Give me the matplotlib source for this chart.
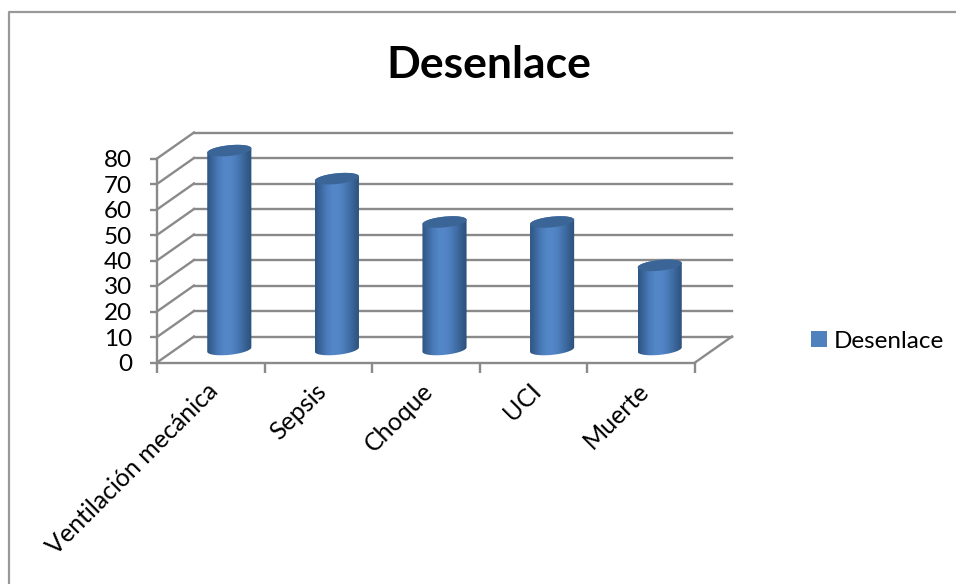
import numpy as np
import matplotlib
matplotlib.use('Agg')
import matplotlib.pyplot as plt
from matplotlib.colors import LinearSegmentedColormap
from matplotlib.patches import Patch, Polygon

categories = ['Ventilación mecánica', 'Sepsis', 'Choque', 'UCI', 'Muerte']
values = [78, 67, 50, 50, 33]
y_ticks = [0, 10, 20, 30, 40, 50, 60, 70, 80]
series_name = 'Desenlace'

W, H = 956, 584
GRAY = '#8a8a8a'
plt.rcParams['font.family'] = ['Lato', 'DejaVu Sans']

fig = plt.figure(figsize=(W / 100, H / 100), dpi=100)
# axes cover the front plane of the fake 3d box
ax = fig.add_axes([157 / W, 1 - 362.5 / H, 538 / W, 204 / H])
ax.set_xlim(0, 5)
ax.set_ylim(0, 80)
ax.patch.set_alpha(0)

# depth of the box in data units
dx = 37 / 107.6
dy = 26 / 2.55

# outer frame
fig.add_artist(plt.Line2D([8.5 / W, 8.5 / W, 1], [0, 1 - 11.5 / H, 1 - 11.5 / H], color='#999999', lw=1.6))

# back wall and side wall
for v in y_ticks:
    ax.plot([dx, 5 + dx], [v + dy, v + dy], color=GRAY, lw=1.7, clip_on=False, zorder=1)
    ax.plot([0, dx], [v, v + dy], color=GRAY, lw=1.7, clip_on=False, zorder=1)
ax.plot([5, 5 + dx], [0, dy], color=GRAY, lw=1.7, clip_on=False, zorder=1)

cmap = LinearSegmentedColormap.from_list('cyl', ['#2e5482', '#3c679c', '#4a7ab8', '#5286c7', '#5487c8', '#4d7fbd', '#4170a8', '#365f90', '#2c4f78'])
grad = np.linspace(0, 1, 256).reshape(1, -1)

half_w = 0.205
t = np.linspace(0, 2 * np.pi, 120)
ell_h = 2.1   # ellipse half height, data units
skew = 0.85

for i, v in enumerate(values):
    cx = i + 0.5 + dx / 2
    base = dy / 2
    top = v + dy / 2
    # outline of the cylinder: lower half of base ellipse, then upper half of top ellipse
    tb = np.linspace(np.pi, 2 * np.pi, 60)
    xb = cx + half_w * np.cos(tb)
    yb = base + skew * np.cos(tb) + ell_h * np.sin(tb)
    tt = np.linspace(0, np.pi, 60)
    xt = cx + half_w * np.cos(tt)
    yt = top + skew * np.cos(tt) + ell_h * np.sin(tt)
    body = Polygon(np.column_stack([np.r_[xb, xt], np.r_[yb, yt]]), closed=True, transform=ax.transData, fc='none', ec='none')
    ax.add_patch(body)
    body.set_clip_on(False)
    im = ax.imshow(grad, extent=[cx - half_w, cx + half_w, 0, 100], aspect='auto', cmap=cmap, zorder=3, interpolation='bilinear')
    im.set_clip_box(fig.bbox)
    im.set_clip_path(body)
    cap = Polygon(np.column_stack([cx + half_w * np.cos(t), top + skew * np.cos(t) + ell_h * np.sin(t)]), closed=True, fc='#3a6596', ec='none', zorder=4, clip_on=False)
    ax.add_patch(cap)

ax.set_xlim(0, 5)
ax.set_ylim(0, 80)

for s in ['top', 'right']:
    ax.spines[s].set_visible(False)
for s in ['left', 'bottom']:
    ax.spines[s].set_color(GRAY)
    ax.spines[s].set_linewidth(1.7)

ax.set_yticks(y_ticks)
ax.set_xticks(range(6))
ax.set_xticklabels([])
ax.set_xticks(np.arange(5) + 0.46, minor=True)
ax.set_xticklabels(categories, minor=True, rotation=45, ha='right', rotation_mode='anchor', fontsize=18, color='black')
ax.tick_params(axis='x', which='major', length=7, width=1.7, color=GRAY)
ax.tick_params(axis='x', which='minor', length=0, pad=12)
ax.tick_params(axis='y', length=5, width=1.7, color=GRAY, labelsize=17.5, pad=13)

fig.text(488.5 / W, 1 - 65 / H, 'Desenlace', fontsize=32, fontweight='bold', ha='center', va='center', color='black')

fig.legend(handles=[Patch(facecolor='#4f81bd', label=series_name)], loc='center left', bbox_to_anchor=(809 / W, 1 - 341 / H), frameon=False, fontsize=17.5, handlelength=0.62, handleheight=0.62, handletextpad=0.3, borderpad=0.1, borderaxespad=0)

fig.savefig('out.png', dpi=100)
